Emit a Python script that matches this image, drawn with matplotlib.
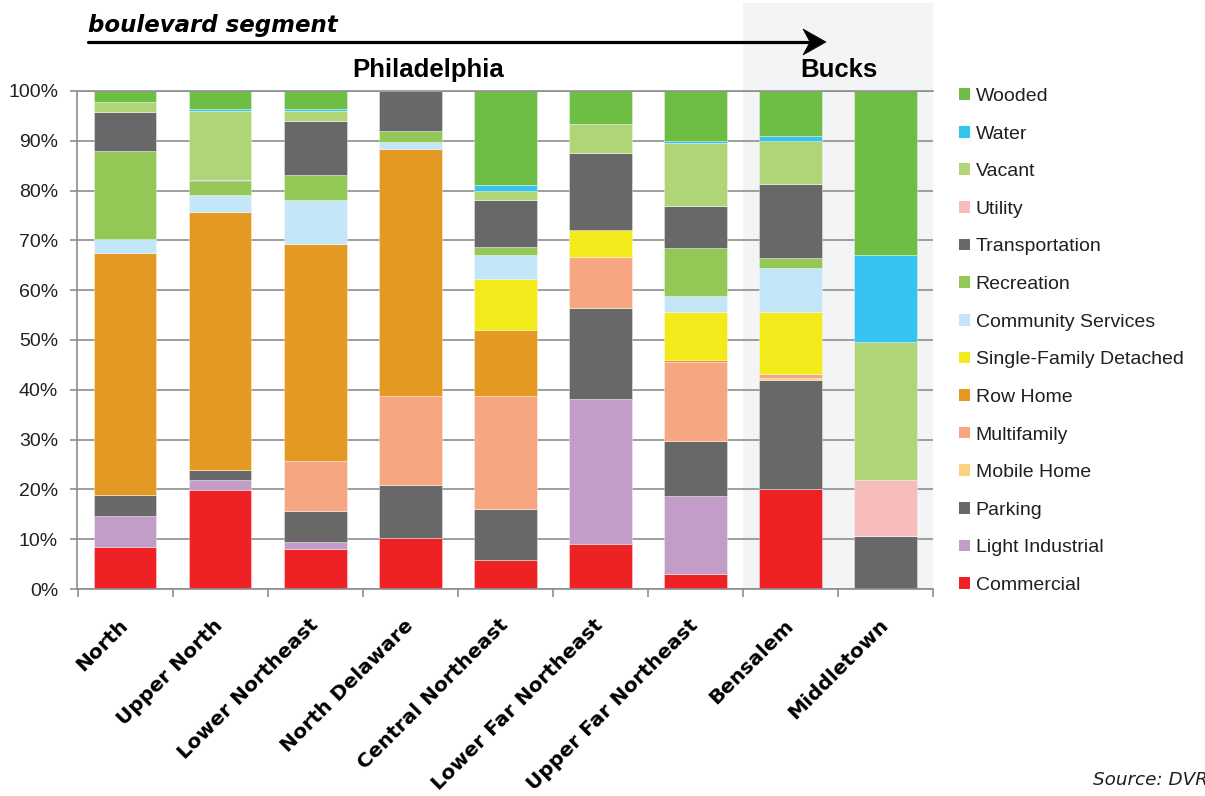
import matplotlib
matplotlib.use("Agg")
import matplotlib.pyplot as plt
import matplotlib.transforms as mtransforms
from matplotlib.patches import Patch, Rectangle, Polygon
from matplotlib.lines import Line2D
import numpy as np

# Boulevard segments, south to north
segments = ["North", "Upper North", "Lower Northeast", "North Delaware",
            "Central Northeast", "Lower Far Northeast", "Upper Far Northeast",
            "Bensalem", "Middletown"]

# Land-use shares (% of area) per segment, stacked bottom to top
commercial       = [8.4, 19.9, 8.0, 10.3, 5.9, 9.1, 3.1, 20.0, 0.0]
light_industrial = [6.2, 2.0, 1.5, 0.0, 0.0, 29.0, 15.5, 0.0, 0.0]
parking          = [4.3, 2.0, 6.1, 10.5, 10.1, 18.3, 11.1, 22.0, 10.6]
mobile_home      = [0.0, 0.0, 0.0, 0.0, 0.0, 0.0, 0.0, 0.4, 0.0]
multifamily      = [0.0, 0.0, 10.2, 17.9, 22.7, 10.3, 15.9, 0.8, 0.0]
row_home         = [48.5, 51.8, 43.5, 49.7, 13.4, 0.0, 0.4, 0.0, 0.0]
single_family    = [0.0, 0.0, 0.0, 0.0, 10.1, 5.4, 9.7, 12.5, 0.0]
community        = [2.9, 3.4, 8.8, 1.3, 4.8, 0.0, 3.1, 8.8, 0.0]
recreation       = [17.6, 2.8, 5.1, 2.3, 1.6, 0.0, 9.6, 1.9, 0.0]
transportation   = [7.8, 0.3, 10.8, 8.0, 9.5, 15.5, 8.5, 14.9, 0.0]
utility          = [0.0, 0.0, 0.0, 0.0, 0.0, 0.0, 0.0, 0.0, 11.2]
vacant           = [2.0, 13.8, 2.0, 0.0, 1.8, 5.8, 12.7, 8.7, 27.7]
water            = [0.0, 0.3, 0.3, 0.0, 1.3, 0.0, 0.3, 1.0, 17.5]
wooded           = [2.3, 3.8, 3.8, 0.0, 18.8, 6.6, 10.1, 9.0, 33.0]

series = [
    ("Commercial", commercial, "#EE2224"),
    ("Light Industrial", light_industrial, "#C29DC8"),
    ("Parking", parking, "#686868"),
    ("Mobile Home", mobile_home, "#FDD17F"),
    ("Multifamily", multifamily, "#F6A680"),
    ("Row Home", row_home, "#E49A22"),
    ("Single-Family Detached", single_family, "#F2EA1A"),
    ("Community Services", community, "#C3E6F8"),
    ("Recreation", recreation, "#94C856"),
    ("Transportation", transportation, "#686868"),
    ("Utility", utility, "#F7BCBC"),
    ("Vacant", vacant, "#B0D577"),
    ("Water", water, "#37C3EF"),
    ("Wooded", wooded, "#6EBD45"),
]

y_ticks = [0, 10, 20, 30, 40, 50, 60, 70, 80, 90, 100]
y_tick_labels = [f"{v}%" for v in y_ticks]

W, H = 1205, 796
grid_col = "#8E8E8E"
text_col = "#231F20"

fig = plt.figure(figsize=(W / 100, H / 100), dpi=100)
fig.patch.set_facecolor("white")
ax = fig.add_axes([77.5 / W, 1 - 589 / H, (933 - 77.5) / W, (589 - 91) / H])
ax.set_facecolor("none")

x = np.arange(len(segments))
ax.set_xlim(-0.5, len(segments) - 0.5)
ax.set_ylim(0, 100)

# Shaded Bucks County block behind the last two segments
band = Rectangle((6.5, 0), 2.0, 1 + 88 / 498, facecolor="#F3F4F6", edgecolor="none",
                 transform=mtransforms.blended_transform_factory(ax.transData, ax.transAxes),
                 clip_on=False, zorder=0)
ax.add_patch(band)

bottom = np.zeros(len(segments))
handles = []
for name, vals, col in series:
    vals = np.asarray(vals, dtype=float)
    ax.bar(x, vals, width=0.66, bottom=bottom, color=col,
           edgecolor=(1, 1, 1, 0.5), linewidth=0.5, zorder=2)
    bottom += vals
    handles.append(Patch(facecolor=col, edgecolor="none", label=name))

# Axes styling
ax.set_axisbelow(True)
ax.yaxis.grid(True, color=grid_col, linewidth=1.2, zorder=1)
ax.set_yticks(y_ticks)
ax.set_yticklabels(y_tick_labels, fontfamily="Liberation Sans", fontsize=14, color=text_col)
ax.tick_params(axis="y", length=5, width=1.2, color=grid_col, pad=9)

ax.set_xticks(x)
ax.set_xticklabels(segments, rotation=45, ha="right", va="center",
                   rotation_mode="anchor", fontfamily="DejaVu Sans",
                   fontweight="bold", fontsize=14.5, color="black")
ax.tick_params(axis="x", which="major", length=0, pad=24)
ax.set_xticks(np.arange(-0.5, len(segments), 1.0), minor=True)
ax.tick_params(axis="x", which="minor", length=6, width=1.2, color=grid_col)

ax.spines["right"].set_visible(False)
for side in ("left", "bottom", "top"):
    ax.spines[side].set_color(grid_col)
    ax.spines[side].set_linewidth(1.2)

# Legend, top entry = top of the stack
leg = fig.legend(handles=handles[::-1], loc="upper left",
                 bbox_to_anchor=(959 / W, 1 - 88 / H), frameon=False,
                 prop={"family": "Liberation Sans", "size": 14},
                 handlelength=0.55, handleheight=0.55, handletextpad=0.3,
                 labelspacing=1.06, borderpad=0, borderaxespad=0)
for t in leg.get_texts():
    t.set_color(text_col)

# Direction header
fig.text(88 / W, 1 - 32 / H, "boulevard segment", fontfamily="DejaVu Sans",
         fontweight="bold", fontstyle="italic", fontsize=16.5, color="black",
         ha="left", va="baseline")
fig.add_artist(Line2D([88 / W, 812 / W], [1 - 42 / H, 1 - 42 / H], color="black",
                      linewidth=2.3, solid_capstyle="round"))
head = [(826, 42), (803, 29), (810, 42), (803, 55)]
fig.add_artist(Polygon([(px / W, 1 - py / H) for px, py in head], closed=True,
                       facecolor="black", edgecolor="black", linewidth=0.5))

fig.text(428 / W, 1 - 77 / H, "Philadelphia", fontfamily="Liberation Sans",
         fontweight="bold", fontsize=18.5, color="black", ha="center", va="baseline")
fig.text(839 / W, 1 - 77 / H, "Bucks", fontfamily="Liberation Sans",
         fontweight="bold", fontsize=18.5, color="black", ha="center", va="baseline")

# Source note runs off the right edge of the page
fig.text(1093 / W, 1 - 785 / H, "Source: DVRPC", fontfamily="DejaVu Sans",
         fontstyle="italic", fontsize=13.2, color=text_col, ha="left", va="baseline")

fig.savefig("out.png", dpi=100)
